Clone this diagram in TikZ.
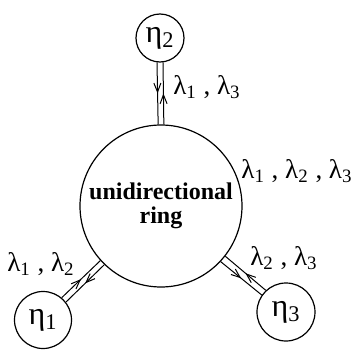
\documentclass[tikz,border=0pt]{standalone}
\usepackage{fontspec}
\setmainfont{Liberation Serif}
\usetikzlibrary{arrows.meta,decorations.markings}
\newcommand{\lam}[1]{λ\textsubscript{#1}}
\newcommand{\etalab}[1]{η\textsubscript{#1}}

\begin{document}
\begin{tikzpicture}[x=0.5pt, y=-0.5pt, line width=0.6pt,
    site/.style={draw, circle, inner sep=0pt, font=\fontsize{16}{16}\selectfont},
    ringnode/.style={draw, circle, inner sep=0pt, minimum size=81pt, align=center, font=\fontsize{12}{12}\selectfont\bfseries},
    wavelab/.style={inner sep=0pt, font=\fontsize{13.5}{15}\selectfont},
    fibre/.style={line width=0.5pt, postaction={decorate},
        decoration={markings, mark=at position #1 with {\arrow{Straight Barb[length=4.5pt,width=3.5pt]}}}},
    fibre/.default=0.5]
    \useasboundingbox (0,0) rectangle (355,354);

    \node[ringnode] (ring) at (161,206) {unidirectional\\ring};
    \node[site, minimum size=24pt] (eta2) at (160,38) {\etalab{2}};
    \node[site, minimum size=28.5pt] (eta1) at (43,320) {\etalab{1}};
    \node[site, minimum size=29pt] (eta3) at (286,312) {\etalab{3}};

    % fibre pairs, one each way
    \draw[fibre] (eta2.263) -- (ring.92);
    \draw[fibre] (ring.88) -- (eta2.277);
    \draw[fibre] (ring.226) -- (eta1.38);
    \draw[fibre] (eta1.50) -- (ring.222);
    \draw[fibre] (ring.317) -- (eta3.145);
    \draw[fibre] (eta3.133) -- (ring.322);

    % wavelengths
    \node[wavelab] (w2) at (207,87) {\lam1 , \lam3};
    \node[wavelab] (wr) at (297,171) {\lam1 , \lam2 , \lam3};
    \node[wavelab] (w1) at (41,264) {\lam1 , \lam2};
    \node[wavelab] (w3) at (284,258) {\lam2 , \lam3};
\end{tikzpicture}
\end{document}
